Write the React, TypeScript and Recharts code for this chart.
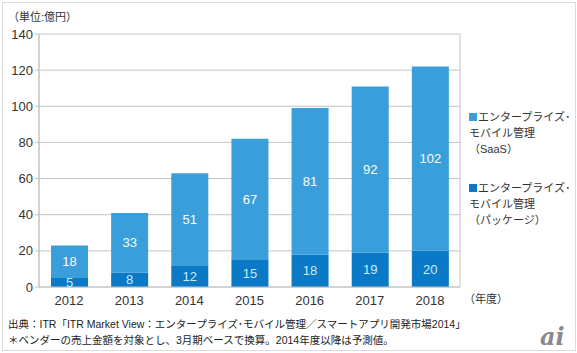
import React from 'react';
import { BarChart, Bar, XAxis, YAxis, CartesianGrid, LabelList } from 'recharts';

const years = ['2012', '2013', '2014', '2015', '2016', '2017', '2018'];
const packageValues = [5, 8, 12, 15, 18, 19, 20];
const saasValues = [18, 33, 51, 67, 81, 92, 102];
const yTicks = [0, 20, 40, 60, 80, 100, 120, 140];

const seriesSaas = { key: 'saas', name: ['エンタープライズ･', 'モバイル管理', '（SaaS）'], color: '#3a9edb' };
const seriesPkg = { key: 'pkg', name: ['エンタープライズ･', 'モバイル管理', '（パッケージ）'], color: '#0a79c6' };

const data = years.map((y, i) => ({ year: y, pkg: packageValues[i], saas: saasValues[i] }));

const FONT = '"Liberation Sans", Arial, "Noto Sans CJK JP", sans-serif';

export default function App() {
  return (
    <div style={{ position: 'absolute', left: 0, top: 0, width: 577, height: 353, background: '#fff', fontFamily: FONT }}>
      <div style={{ position: 'absolute', left: 2, top: 2, width: 572, height: 347, border: '1px solid #dcdcdc' }} />
      <div style={{ position: 'absolute', left: 8, top: 8, fontSize: 11, color: '#333' }}>（単位:億円）</div>
      <div style={{ position: 'absolute', left: 0, top: 0 }}>
        <BarChart
          width={577}
          height={353}
          data={data}
          margin={{ top: 34, right: 117, left: 4, bottom: 46 }}
          barSize={37}
        >
          <CartesianGrid
            stroke="#c4c4c4"
            horizontal={true}
            vertical={true}
            verticalCoordinatesGenerator={() => [39, 460]}
          />
          <XAxis
            dataKey="year"
            height={20}
            tickLine={false}
            axisLine={{ stroke: '#c4c4c4' }}
            tick={{ fill: '#333', fontSize: 13, fontFamily: FONT }}
            tickMargin={3}
          />
          <YAxis
            width={35}
            domain={[0, 140]}
            ticks={yTicks}
            interval={0}
            tickSize={4}
            tickLine={{ stroke: '#c4c4c4' }}
            axisLine={{ stroke: '#c4c4c4' }}
            tick={{ fill: '#333', fontSize: 13, fontFamily: FONT }}
            tickMargin={2}
          />
          <Bar dataKey="pkg" stackId="a" fill={seriesPkg.color} isAnimationActive={false}>
            <LabelList dataKey="pkg" position="center" fill="#c8ecff" fontSize={13} fontFamily={FONT} />
          </Bar>
          <Bar dataKey="saas" stackId="a" fill={seriesSaas.color} isAnimationActive={false}>
            <LabelList dataKey="saas" position="center" fill="#ffffff" fontSize={13} fontFamily={FONT} />
          </Bar>
        </BarChart>
      </div>
      <div style={{ position: 'absolute', left: 469, top: 109, fontSize: 11, color: '#333', lineHeight: '16px', whiteSpace: 'nowrap' }}>
        {[seriesSaas, seriesPkg].map((s, idx) => (
          <div key={s.key} style={{ marginBottom: idx === 0 ? 23 : 0, position: 'relative', paddingLeft: 9 }}>
            <span style={{ position: 'absolute', left: 0, top: 4, width: 8, height: 8, background: s.color }} />
            {s.name.map((line, j) => (
              <div key={j} style={{ marginLeft: j === 0 ? 0 : -9 }}>{line}</div>
            ))}
          </div>
        ))}
      </div>
      <div style={{ position: 'absolute', left: 464, top: 290, fontSize: 11, color: '#333' }}>（年度）</div>
      <div style={{ position: 'absolute', left: 8, top: 316, fontSize: 10.5, color: '#222', lineHeight: '16px', whiteSpace: 'nowrap' }}>
        <div>出典：ITR「ITR Market View：エンタープライズ･モバイル管理／スマートアプリ開発市場2014」</div>
        <div>＊ベンダーの売上金額を対象とし、3月期ベースで換算。2014年度以降は予測値。</div>
      </div>
      <div style={{ position: 'absolute', left: 540, top: 322, fontSize: 24, fontStyle: 'italic', fontWeight: 'bold', color: '#8a8a8a', fontFamily: '"DejaVu Serif", serif' }}>ai</div>
    </div>
  );
}
